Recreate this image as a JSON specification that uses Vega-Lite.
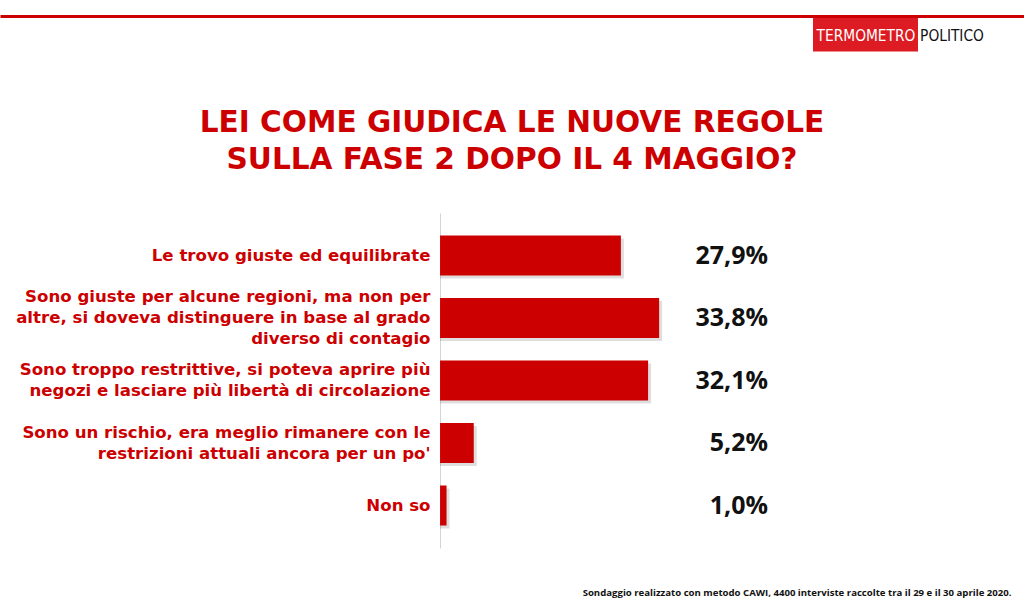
{
  "$schema": "https://vega.github.io/schema/vega-lite/v6.json",
  "width": 1024,
  "height": 335,
  "autosize": {"type": "none"},
  "padding": {"left": 0, "right": 0, "top": 213, "bottom": 66},
  "background": "white",
  "config": {"view": {"stroke": null}, "font": "DejaVu Sans"},
  "title": {
    "text": ["LEI COME GIUDICA LE NUOVE REGOLE", "SULLA FASE 2 DOPO IL 4 MAGGIO?"],
    "anchor": "middle",
    "frame": "group",
    "font": "DejaVu Sans",
    "fontSize": 29.6,
    "fontWeight": "bold",
    "color": "#cc0000",
    "lineHeight": 37,
    "offset": 0,
    "dy": 212
  },
  "data": {
    "values": [
      {"cat": "Le trovo giuste ed equilibrate", "v": 27.9, "label": "27,9%"},
      {"cat": "Sono giuste per alcune regioni, ma non per|altre, si doveva distinguere in base al grado|diverso di contagio", "v": 33.8, "label": "33,8%"},
      {"cat": "Sono troppo restrittive, si poteva aprire più|negozi e lasciare più libertà  di circolazione", "v": 32.1, "label": "32,1%"},
      {"cat": "Sono un rischio, era meglio rimanere con le|restrizioni attuali ancora per un po'", "v": 5.2, "label": "5,2%"},
      {"cat": "Non so", "v": 1.0, "label": "1,0%"}
    ]
  },
  "encoding": {
    "y": {
      "field": "cat",
      "type": "nominal",
      "sort": null,
      "scale": {"paddingInner": 0.36, "paddingOuter": 0.36},
      "axis": {
        "orient": "left",
        "offset": -440,
        "title": null,
        "ticks": false,
        "domainColor": "#d4d4d4",
        "domainWidth": 1,
        "labelExpr": "split(datum.label, '|')",
        "labelColor": "#cc0000",
        "labelFont": "DejaVu Sans",
        "labelFontSize": 16.6,
        "labelFontWeight": "bold",
        "labelLineHeight": 21,
        "labelPadding": 10,
        "labelLimit": 0,
        "labelAlign": "right",
        "labelBaseline": "middle",
        "labelOffset": {
          "condition": [
            {"test": "length(split(datum.label, '|')) == 3", "value": -21},
            {"test": "length(split(datum.label, '|')) == 2", "value": -10.5}
          ],
          "value": 0
        }
      }
    }
  },
  "layer": [
    {
      "mark": {"type": "bar", "color": "#000000", "opacity": 0.13, "xOffset": 3, "yOffset": 3},
      "encoding": {
        "x": {
          "field": "v",
          "type": "quantitative",
          "scale": {"domain": [-67.9, 90.1], "nice": false, "zero": false},
          "axis": {
            "orient": "bottom",
            "domain": false,
            "ticks": false,
            "labels": false,
            "grid": false,
            "title": "Sondaggio realizzato con metodo CAWI, 4400 interviste raccolte tra il 29 e il 30 aprile 2020.",
            "titleX": 1011,
            "titleY": 44,
            "titleAlign": "right",
            "titleBaseline": "middle",
            "titleFont": "Open Sans",
            "titleFontSize": 9.6,
            "titleFontWeight": "bold",
            "titleColor": "#111111"
          }
        },
        "x2": {"datum": 0}
      }
    },
    {
      "mark": {"type": "bar", "color": "#cc0000"},
      "encoding": {
        "x": {
          "field": "v",
          "type": "quantitative",
          "axis": {
            "orient": "top",
            "offset": 197,
            "title": null,
            "grid": false,
            "domain": true,
            "domainColor": "#cc0000",
            "domainWidth": 3,
            "values": [65.64, 78.91],
            "ticks": true,
            "tickSize": -35,
            "tickWidth": {"condition": {"test": "datum.value < 70", "value": 105}, "value": 67},
            "tickColor": {"condition": {"test": "datum.value < 70", "value": "#dd1b22"}, "value": "#ffffff"},
            "labelExpr": "datum.value < 70 ? 'TERMOMETRO' : 'POLITICO'",
            "labelColor": {"condition": {"test": "datum.value < 70", "value": "#ffffff"}, "value": "#111111"},
            "labelFont": "DejaVu Sans Condensed",
            "labelFontSize": 15.3,
            "labelPadding": 16,
            "labelBaseline": "middle",
            "labelAlign": "center",
            "labelOverlap": false,
            "labelFlush": false,
            "labelBound": false
          }
        },
        "x2": {"datum": 0}
      }
    },
    {
      "mark": {"type": "text", "align": "right", "baseline": "middle", "font": "Open Sans", "fontSize": 25, "fontWeight": "bold", "color": "#111111"},
      "encoding": {
        "x": {"datum": 50.6, "type": "quantitative", "axis": null},
        "text": {"field": "label"}
      }
    }
  ]
}
